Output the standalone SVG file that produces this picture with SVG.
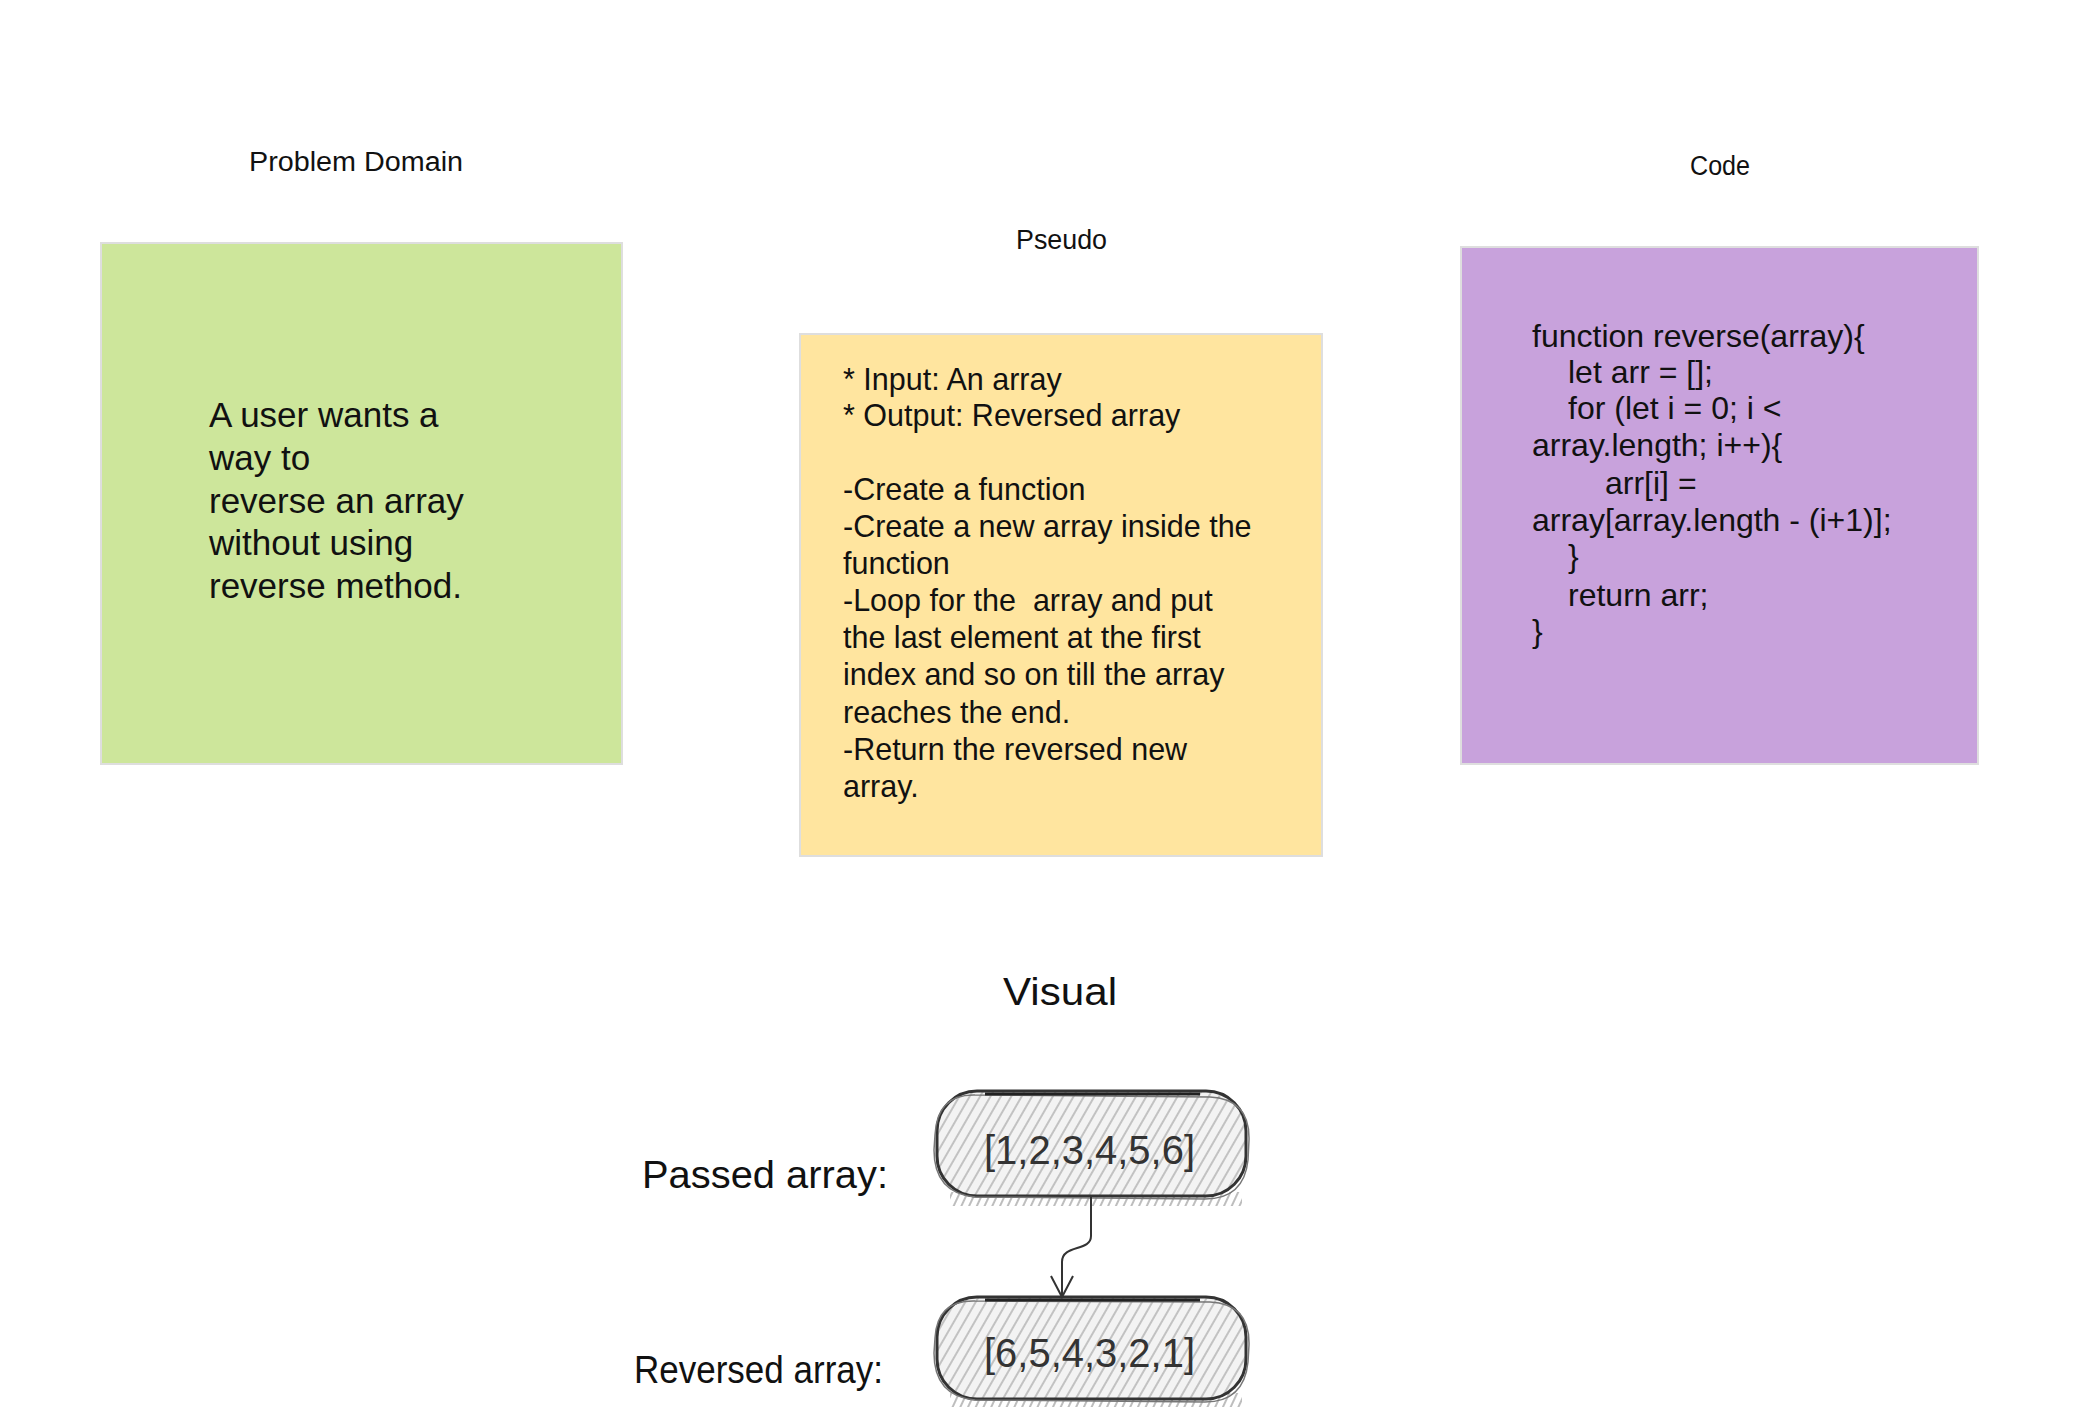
<svg xmlns="http://www.w3.org/2000/svg" width="2080" height="1409" viewBox="0 0 2080 1409">
<style>
.t{font-family:"Liberation Sans",Arial,sans-serif;fill:#111;white-space:pre}
.title{font-size:27px}
.green{font-size:35px}
.pseudo{font-size:30.5px}
.code{font-size:32px}
.big{font-size:38px}
.arr{font-family:"Liberation Sans",Arial,sans-serif;font-size:41px;fill:#333}
.note{stroke:#dedede;stroke-width:2}
.box{fill:url(#hatch);stroke:#333;stroke-width:3}
.box2{fill:none;stroke:#777;stroke-width:1.5}
.conn{fill:none;stroke:#333;stroke-width:2}
</style>
<defs>
<pattern id="hatch" patternUnits="userSpaceOnUse" width="9" height="9" patternTransform="rotate(30)">
<rect width="9" height="9" fill="#f3f3f3"/>
<line x1="2" y1="0" x2="2" y2="9" stroke="#a8a8a8" stroke-width="1.3"/>
</pattern>
<pattern id="shade" patternUnits="userSpaceOnUse" width="7" height="7" patternTransform="rotate(25)">
<line x1="2" y1="0" x2="2" y2="7" stroke="#8a8a8a" stroke-width="1.6"/>
</pattern>
</defs>
<rect width="2080" height="1409" fill="#ffffff"/>

<g id="problem-domain">
<text class="t title" x="249" y="171" textLength="214" lengthAdjust="spacingAndGlyphs">Problem Domain</text>
<rect class="note" x="101" y="243" width="521" height="521" fill="#cde69b"/>
<text class="t green" x="209" y="427">A user wants a</text>
<text class="t green" x="209" y="470">way to</text>
<text class="t green" x="209" y="513">reverse an array</text>
<text class="t green" x="209" y="555">without using</text>
<text class="t green" x="209" y="598">reverse method.</text>
</g>

<g id="pseudo">
<text class="t title" x="1016" y="249" textLength="91" lengthAdjust="spacingAndGlyphs">Pseudo</text>
<rect class="note" x="800" y="334" width="522" height="522" fill="#ffe59f"/>
<text class="t pseudo" x="843" y="390">* Input: An array</text>
<text class="t pseudo" x="843" y="426">* Output: Reversed array</text>
<text class="t pseudo" x="843" y="500">-Create a function</text>
<text class="t pseudo" x="843" y="537">-Create a new array inside the</text>
<text class="t pseudo" x="843" y="574">function</text>
<text class="t pseudo" x="843" y="611">-Loop for the  array and put</text>
<text class="t pseudo" x="843" y="648">the last element at the first</text>
<text class="t pseudo" x="843" y="685">index and so on till the array</text>
<text class="t pseudo" x="843" y="723">reaches the end.</text>
<text class="t pseudo" x="843" y="760">-Return the reversed new</text>
<text class="t pseudo" x="843" y="797">array.</text>
</g>

<g id="code">
<text class="t title" x="1690" y="175" textLength="60" lengthAdjust="spacingAndGlyphs">Code</text>
<rect class="note" x="1461" y="247" width="517" height="517" fill="#c8a2dc"/>
<text class="t code" x="1532" y="347">function reverse(array){</text>
<text class="t code" x="1568" y="383">let arr = [];</text>
<text class="t code" x="1568" y="419">for (let i = 0; i &lt;</text>
<text class="t code" x="1532" y="456">array.length; i++){</text>
<text class="t code" x="1605" y="494">arr[i] =</text>
<text class="t code" x="1532" y="531">array[array.length - (i+1)];</text>
<text class="t code" x="1568" y="567">}</text>
<text class="t code" x="1568" y="606">return arr;</text>
<text class="t code" x="1532" y="642">}</text>
</g>

<g id="visual">
<text class="t big" x="1003" y="1005" textLength="114" lengthAdjust="spacingAndGlyphs">Visual</text>
<text class="t big" x="642" y="1188" textLength="246" lengthAdjust="spacingAndGlyphs">Passed array:</text>
<text class="t big" x="634" y="1383" textLength="249" lengthAdjust="spacingAndGlyphs">Reversed array:</text>
</g>

<g id="passed-array">
<rect x="950" y="1192" width="292" height="14" fill="url(#shade)" opacity="0.7"/>
<rect class="box" x="937" y="1091" width="309" height="105" rx="40"/>
<path class="box2" d="M975 1095 L1210 1097 Q1250 1099 1249 1140 L1248 1160 Q1244 1199 1205 1199 L975 1197 Q934 1193 934 1150 L935 1135 Q937 1094 975 1095"/>
<line x1="985" y1="1094" x2="1200" y2="1094" stroke="#222" stroke-width="3"/>
<text class="arr" x="984" y="1164" textLength="211" lengthAdjust="spacingAndGlyphs">[1,2,3,4,5,6]</text>
</g>

<g id="reversed-array">
<rect x="950" y="1393" width="292" height="14" fill="url(#shade)" opacity="0.7"/>
<rect class="box" x="937" y="1297" width="309" height="102" rx="40"/>
<path class="box2" d="M975 1301 L1210 1302 Q1250 1304 1249 1345 L1248 1362 Q1244 1402 1205 1402 L975 1400 Q934 1396 934 1353 L935 1338 Q937 1300 975 1301"/>
<line x1="985" y1="1300" x2="1200" y2="1300" stroke="#222" stroke-width="3"/>
<text class="arr" x="984" y="1367" textLength="211" lengthAdjust="spacingAndGlyphs">[6,5,4,3,2,1]</text>
</g>

<g id="connectors">
<path class="conn" d="M1091 1197 L1091 1236 C1091 1252 1062 1244 1062 1262 L1062 1296"/>
<polyline class="conn" points="1051,1276 1062,1297 1073,1276"/>
</g>
</svg>
